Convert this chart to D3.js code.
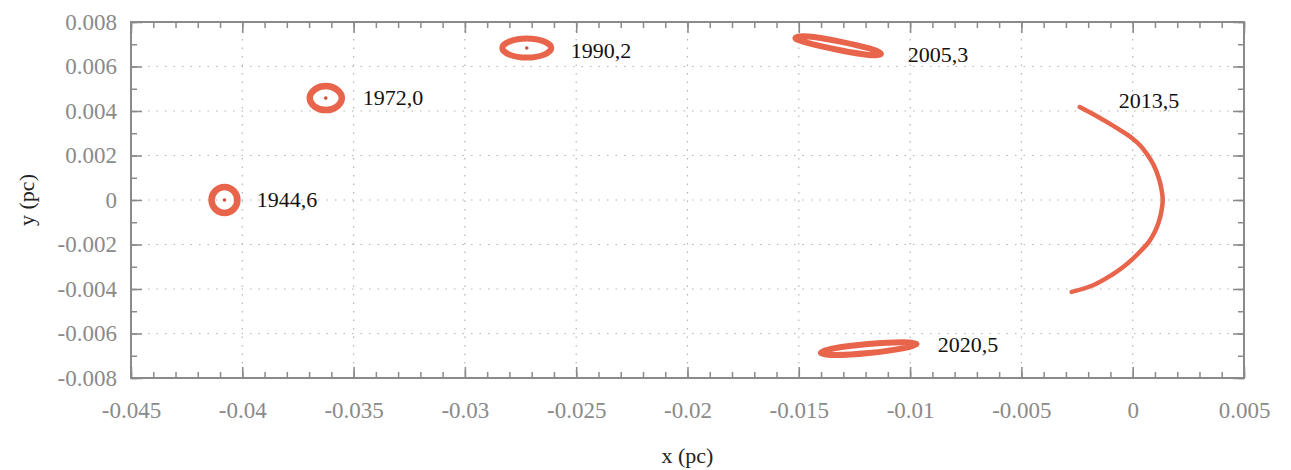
<!DOCTYPE html>
<html>
<head>
<meta charset="utf-8">
<script src="https://cdn.jsdelivr.net/npm/d3@7"></script>
<style>
  body { margin: 0; background: #fff; }
  svg { display: block; }
</style>
</head>
<body>
<div id="chart"></div>
<script>
// axis ticks
const xTicks = [-0.045, -0.04, -0.035, -0.03, -0.025, -0.02, -0.015, -0.01, -0.005, 0, 0.005];
const yTicks = [-0.008, -0.006, -0.004, -0.002, 0, 0.002, 0.004, 0.006, 0.008];
const xMinor = d3.range(-45, 6, 1).map(d => d / 1000);
const yMinor = d3.range(-8, 9, 1).map(d => d / 1000);

// orbit epochs
const epochs = ["1944,6", "1972,0", "1990,2", "2005,3", "2013,5", "2020,5"];

const orbit1944 = [[-0.04022, 0], [-0.04039, 0.00041], [-0.0408, 0.00058], [-0.04121, 0.00041],
  [-0.04138, 0], [-0.04121, -0.00041], [-0.0408, -0.00058], [-0.04039, -0.00041]];
const orbit1972 = [[-0.03553, 0.00458], [-0.03575, 0.00496], [-0.03625, 0.00512], [-0.03675, 0.00496],
  [-0.03697, 0.00458], [-0.03675, 0.0042], [-0.03625, 0.00404], [-0.03575, 0.0042]];
const orbit1990 = [[-0.02612, 0.00683], [-0.02645, 0.00713], [-0.02722, 0.00726], [-0.02799, 0.00713],
  [-0.02832, 0.00683], [-0.02799, 0.00653], [-0.02722, 0.0064], [-0.02645, 0.00653]];
const orbit2005 = [[-0.01131, 0.00657], [-0.01185, 0.00652], [-0.01326, 0.00675], [-0.01465, 0.00707],
  [-0.01515, 0.00728], [-0.01457, 0.00735], [-0.0132, 0.00713], [-0.01183, 0.00681]];
const orbit2013 = [[-0.00238, 0.00418], [-0.00171, 0.00382], [-0.00117, 0.00351], [-0.00058, 0.00315],
  [-0.00004, 0.00279], [0.00036, 0.00243], [0.00067, 0.00202], [0.00094, 0.00157],
  [0.00117, 0.00099], [0.0013, 0.00045], [0.00135, 0], [0.0013, -0.00045],
  [0.00117, -0.00099], [0.00099, -0.00144], [0.00072, -0.00189], [0.0004, -0.00225],
  [0.00004, -0.00261], [-0.00049, -0.00306], [-0.00094, -0.00337], [-0.00175, -0.00382],
  [-0.00274, -0.00413]];
const orbit2020 = [[-0.00971, -0.00647], [-0.01033, -0.00667], [-0.01185, -0.00688], [-0.01337, -0.00697],
  [-0.01401, -0.00687], [-0.01339, -0.00666], [-0.01187, -0.00647], [-0.01035, -0.00639]];
const closedOrbit = [true, true, true, true, false, true];

// reference centre points
const centres = [[-0.0408, 0], [-0.03625, 0.00458], [-0.02722, 0.00683]];

// label anchors (pc)
const labelAt = [[-0.03935, -0.00031], [-0.03459, 0.00427], [-0.02525, 0.00638],
  [-0.01011, 0.0062], [-0.00063, 0.00413], [-0.00876, -0.00683]];

const orbits = [orbit1944, orbit1972, orbit1990, orbit2005, orbit2013, orbit2020];
const orbitWidth = [6.5, 6.5, 6, 6, 4.5, 6];

const W = 1291, H = 470;
const margin = {top: 22, right: 47, bottom: 92, left: 131};
const width = W - margin.left - margin.right;
const height = H - margin.top - margin.bottom;
const orbitColor = "#e8644a";
const axisColor = "#8a8a8a";
const serif = "'Liberation Serif', 'Times New Roman', serif";

const x = d3.scaleLinear().domain([-0.045, 0.005]).range([0, width]);
const y = d3.scaleLinear().domain([-0.008, 0.008]).range([height, 0]);

const svg = d3.select('#chart').append('svg')
  .attr('width', W)
  .attr('height', H);

const g = svg.append('g')
  .attr('transform', `translate(${margin.left},${margin.top})`);

// GRID
g.append('g').selectAll('line')
  .data(xTicks.slice(1, -1))
  .join('line')
  .attr('x1', d => x(d)).attr('x2', d => x(d))
  .attr('y1', 0).attr('y2', height)
  .attr('stroke', '#b4b4b4')
  .attr('stroke-width', 1.2)
  .attr('stroke-dasharray', '1.5,7');

g.append('g').selectAll('line')
  .data(yTicks.slice(1, -1))
  .join('line')
  .attr('x1', 0).attr('x2', width)
  .attr('y1', d => y(d)).attr('y2', d => y(d))
  .attr('stroke', '#b4b4b4')
  .attr('stroke-width', 1.2)
  .attr('stroke-dasharray', '1.5,7');

// AXES (ticks point inwards on all four sides)
const fmt = d => d === 0 ? "0" : String(+d.toFixed(3));

function styleAxis(sel) {
  sel.select('.domain').remove();
  sel.selectAll('line').attr('stroke', axisColor).attr('stroke-width', 1.5);
  sel.selectAll('text')
    .attr('fill', axisColor)
    .attr('font-family', serif)
    .attr('font-size', '23px');
}

g.append('g').attr('transform', `translate(0,${height})`)
  .call(d3.axisBottom(x).tickValues(xMinor).tickSize(-6).tickFormat(''))
  .call(styleAxis);
g.append('g').attr('transform', `translate(0,${height})`)
  .call(d3.axisBottom(x).tickValues(xTicks).tickSize(-11).tickPadding(24).tickFormat(fmt))
  .call(styleAxis);
g.append('g')
  .call(d3.axisTop(x).tickValues(xMinor).tickSize(-6).tickFormat(''))
  .call(styleAxis);
g.append('g')
  .call(d3.axisTop(x).tickValues(xTicks).tickSize(-11).tickFormat(''))
  .call(styleAxis);

g.append('g')
  .call(d3.axisLeft(y).tickValues(yMinor).tickSize(-6).tickFormat(''))
  .call(styleAxis);
g.append('g')
  .call(d3.axisLeft(y).tickValues(yTicks).tickSize(-11).tickPadding(14).tickFormat(fmt))
  .call(styleAxis);
g.append('g').attr('transform', `translate(${width},0)`)
  .call(d3.axisRight(y).tickValues(yMinor).tickSize(-6).tickFormat(''))
  .call(styleAxis);
g.append('g').attr('transform', `translate(${width},0)`)
  .call(d3.axisRight(y).tickValues(yTicks).tickSize(-11).tickFormat(''))
  .call(styleAxis);

g.append('rect')
  .attr('width', width)
  .attr('height', height)
  .attr('fill', 'none')
  .attr('stroke', axisColor)
  .attr('stroke-width', 2);

// ORBITS
orbits.forEach((pts, i) => {
  const line = d3.line()
    .x(d => x(d[0]))
    .y(d => y(d[1]))
    .curve(closedOrbit[i] ? d3.curveCardinalClosed : d3.curveCatmullRom);
  g.append('path')
    .datum(pts)
    .attr('d', line)
    .attr('fill', 'none')
    .attr('stroke', orbitColor)
    .attr('stroke-width', orbitWidth[i])
    .attr('stroke-linecap', 'round')
    .attr('stroke-linejoin', 'round');
});

g.append('g').selectAll('circle')
  .data(centres)
  .join('circle')
  .attr('cx', d => x(d[0]))
  .attr('cy', d => y(d[1]))
  .attr('r', 1.8)
  .attr('fill', '#c9503a');

// LABELS
g.append('g').selectAll('text')
  .data(epochs)
  .join('text')
  .attr('x', (d, i) => x(labelAt[i][0]))
  .attr('y', (d, i) => y(labelAt[i][1]))
  .attr('fill', '#111')
  .attr('font-family', serif)
  .attr('font-size', '22px')
  .text(d => d);

// AXIS TITLES
svg.append('text')
  .attr('x', margin.left + width / 2)
  .attr('y', 463)
  .attr('text-anchor', 'middle')
  .attr('fill', '#222')
  .attr('font-family', serif)
  .attr('font-size', '22px')
  .text('x (pc)');

svg.append('text')
  .attr('transform', `translate(34,${margin.top + height / 2}) rotate(-90)`)
  .attr('text-anchor', 'middle')
  .attr('fill', '#222')
  .attr('font-family', serif)
  .attr('font-size', '22px')
  .text('y (pc)');
</script>
</body>
</html>
